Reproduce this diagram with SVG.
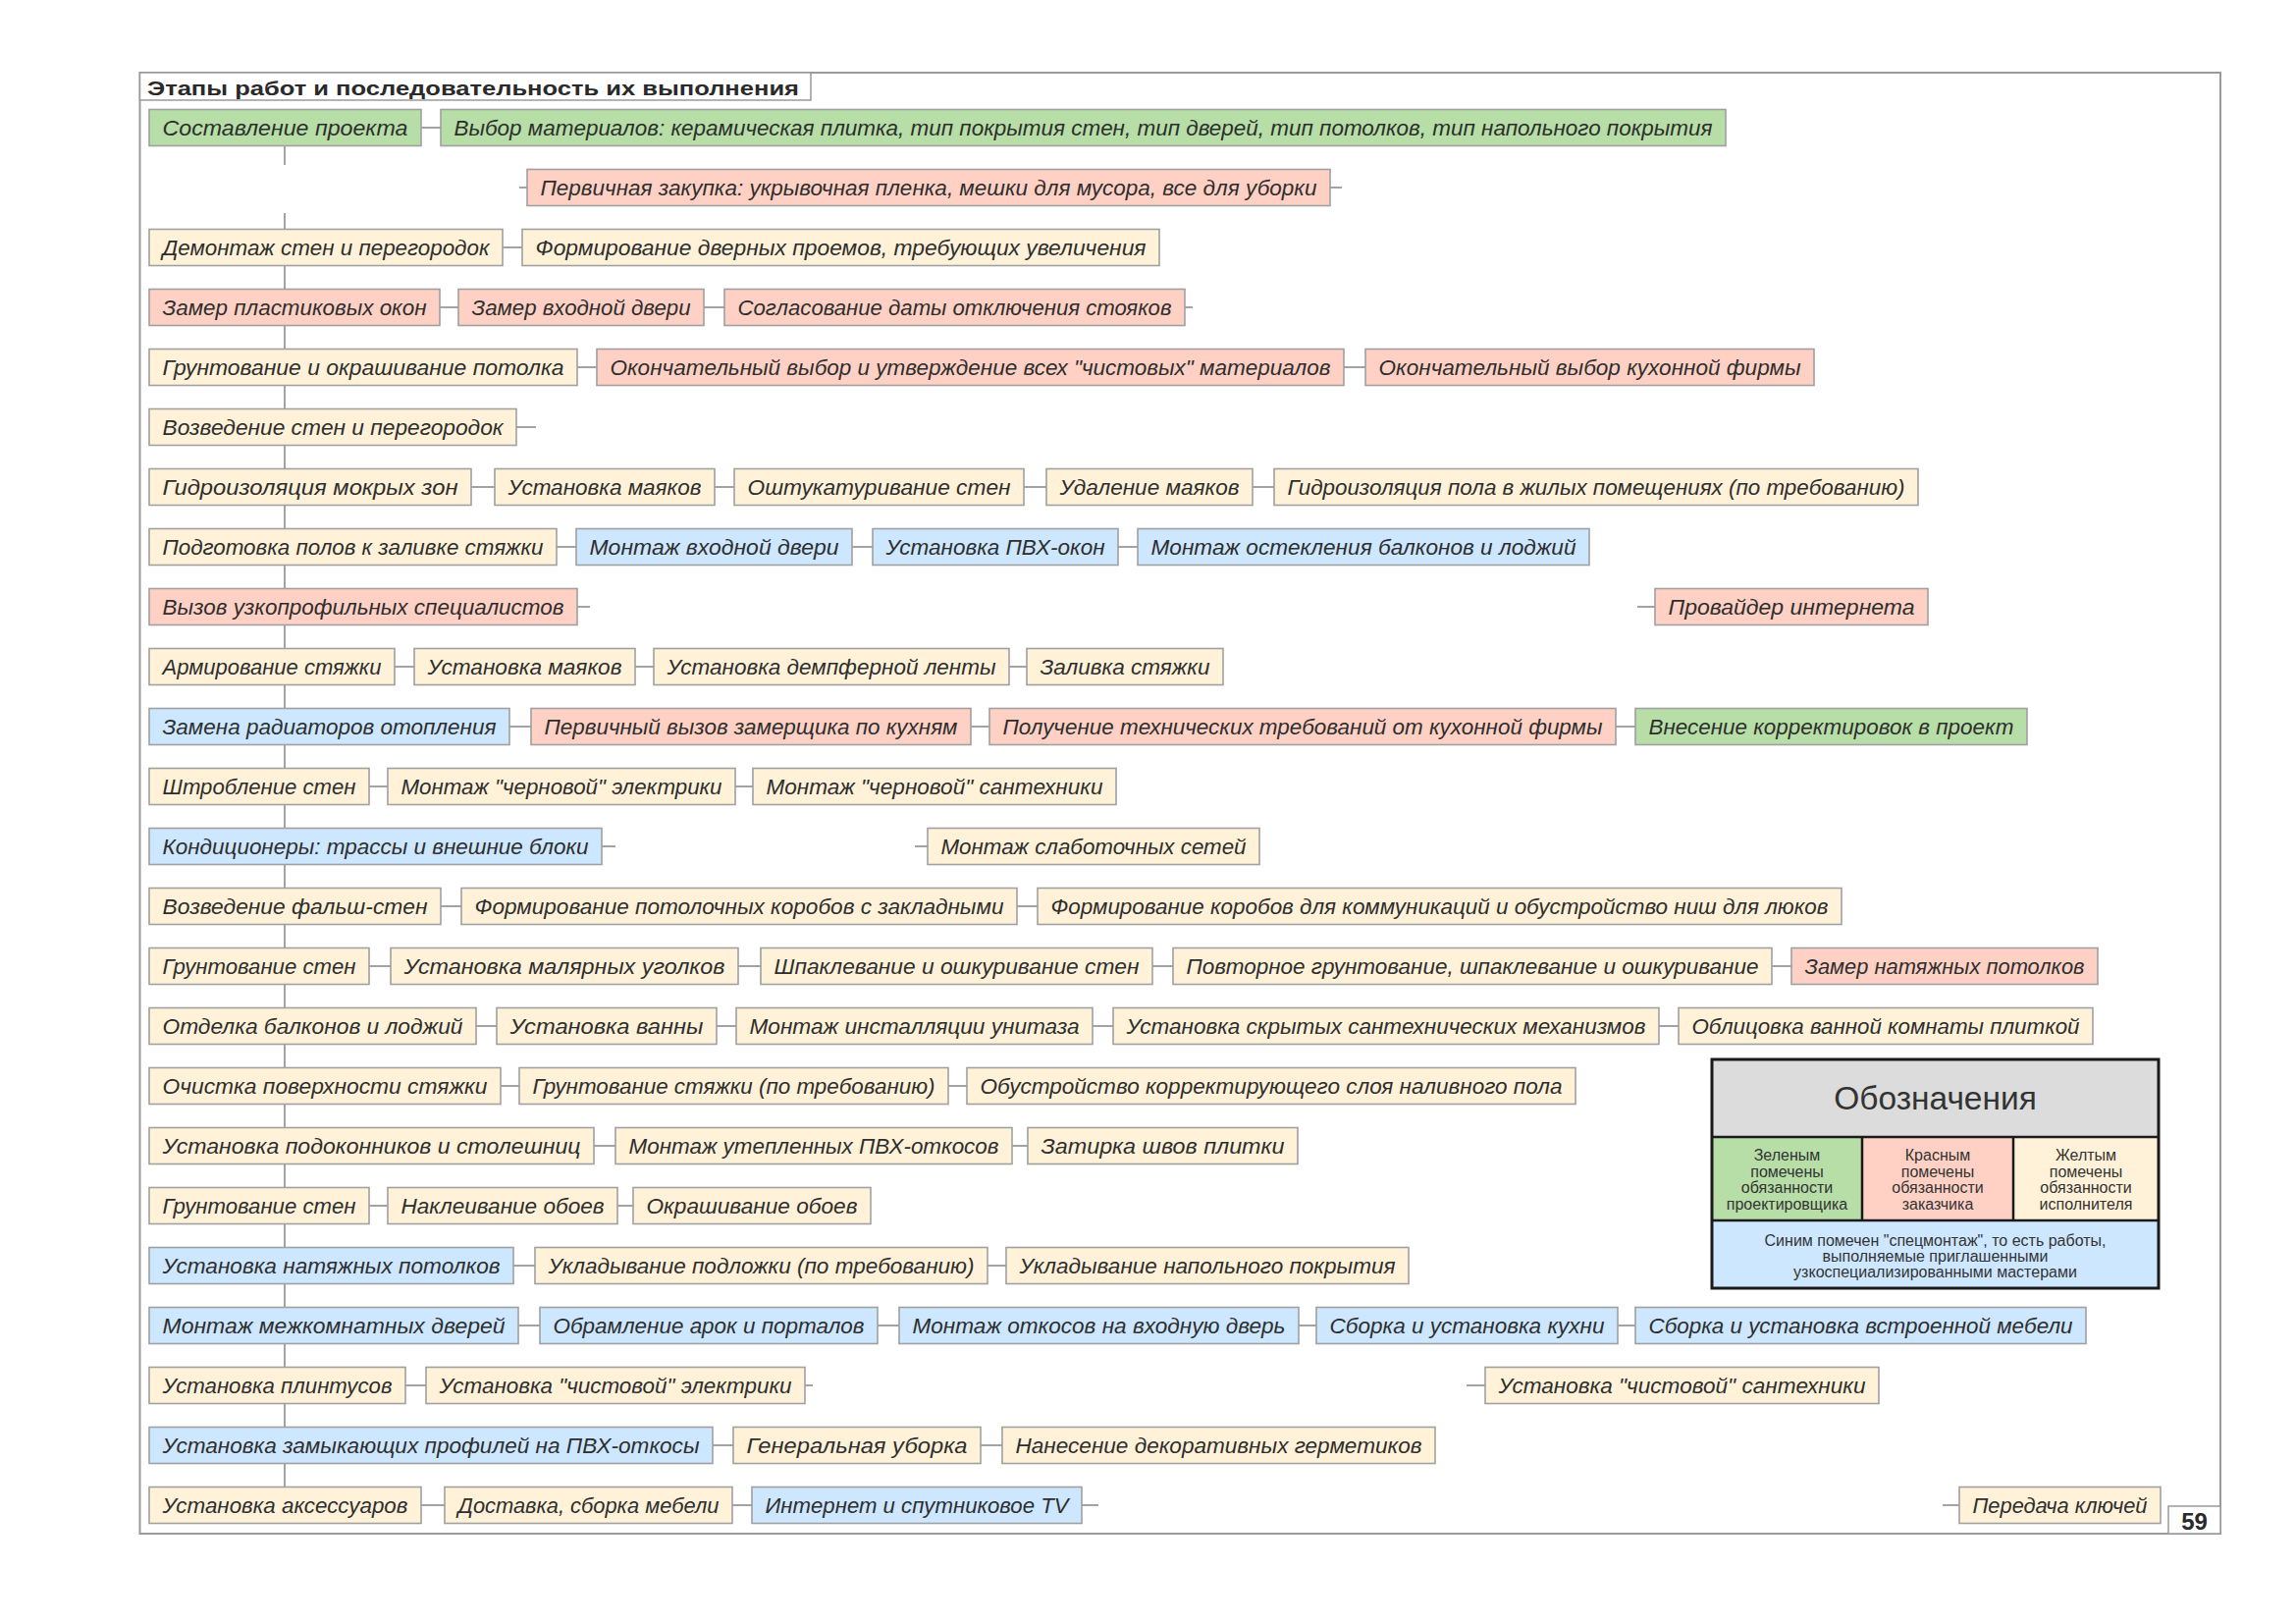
<svg xmlns="http://www.w3.org/2000/svg" width="2339" height="1653" viewBox="0 0 2339 1653">
<style>
rect.n{stroke:#a0a0a0;stroke-width:1.6}
.y{fill:#fff2d8}.r{fill:#ffd1c4}.g{fill:#b6dea6}.b{fill:#cce7ff}
text.t{font-family:"Liberation Sans",Arial,sans-serif;font-style:italic;font-size:22.5px;fill:#2e2e2e}
.c path{stroke:#a3a3a3;stroke-width:2;fill:none}
.lg{font-family:"Liberation Sans",Arial,sans-serif;fill:#333;text-anchor:middle}
</style>
<rect width="2339" height="1653" fill="#ffffff"/>
<rect x="142.5" y="74" width="2119.5" height="1488" fill="none" stroke="#9a9a9a" stroke-width="2"/>
<g id="title">
<rect x="142.5" y="74" width="683.5" height="28" fill="#ffffff" stroke="#9a9a9a" stroke-width="1.5"/>
<text x="150" y="96.5" font-family="Liberation Sans, Arial, sans-serif" font-weight="bold" font-size="21" fill="#2a2a2a" textLength="664" lengthAdjust="spacingAndGlyphs">Этапы работ и последовательность их выполнения</text>
</g>
<g id="connectors" class="c">
<path d="M290 148.5V168M290 217V1514.5"/>
<path d="M429 130H449"/>
<path d="M529 191H537M1355 191H1367"/>
<path d="M512 252H532"/>
<path d="M448 313H467M717 313H738M1207 313H1215"/>
<path d="M588 374H608M1369 374H1391"/>
<path d="M526 435H546"/>
<path d="M480 496H504M728 496H748M1043 496H1066M1276 496H1298"/>
<path d="M567 557H587M868 557H889M1139 557H1159"/>
<path d="M588 618H601M1668 618H1686"/>
<path d="M402 679H422M647 679H666M1028 679H1046"/>
<path d="M519 740H541M989 740H1008M1646 740H1666"/>
<path d="M376 801H395M749 801H767"/>
<path d="M613 862H627M932 862H945"/>
<path d="M449 923H470M1036 923H1057"/>
<path d="M376 984H398M752 984H775M1174 984H1195M1805 984H1825"/>
<path d="M485 1045H506M730 1045H750M1113 1045H1134M1690 1045H1710"/>
<path d="M510 1106H529M966 1106H985"/>
<path d="M605 1167H627M1031 1167H1047"/>
<path d="M376 1228H395M629 1228H645"/>
<path d="M523 1289H545M1006 1289H1025"/>
<path d="M528 1350H550M894 1350H916M1323 1350H1341M1648 1350H1666"/>
<path d="M413 1411H434M820 1411H828M1494 1411H1513"/>
<path d="M726 1472H747M999 1472H1021"/>
<path d="M429 1533H453M746 1533H766M1102 1533H1119M1979 1533H1996"/>
</g>
<g id="n1a"><rect class="n g" x="152" y="111.5" width="277" height="37"/><text class="t" x="165.5" y="137.5" textLength="250" lengthAdjust="spacingAndGlyphs">Составление проекта</text></g>
<g id="n1b"><rect class="n g" x="449" y="111.5" width="1309" height="37"/><text class="t" x="462.5" y="137.5" textLength="1282" lengthAdjust="spacingAndGlyphs">Выбор материалов: керамическая плитка, тип покрытия стен, тип дверей, тип потолков, тип напольного покрытия</text></g>
<g id="n2a"><rect class="n r" x="537" y="172.5" width="818" height="37"/><text class="t" x="550.5" y="198.5" textLength="791" lengthAdjust="spacingAndGlyphs">Первичная закупка: укрывочная пленка, мешки для мусора, все для уборки</text></g>
<g id="n3a"><rect class="n y" x="152" y="233.5" width="360" height="37"/><text class="t" x="165.5" y="259.5" textLength="333" lengthAdjust="spacingAndGlyphs">Демонтаж стен и перегородок</text></g>
<g id="n3b"><rect class="n y" x="532" y="233.5" width="649" height="37"/><text class="t" x="545.5" y="259.5" textLength="622" lengthAdjust="spacingAndGlyphs">Формирование дверных проемов, требующих увеличения</text></g>
<g id="n4a"><rect class="n r" x="152" y="294.5" width="296" height="37"/><text class="t" x="165.5" y="320.5" textLength="269" lengthAdjust="spacingAndGlyphs">Замер пластиковых окон</text></g>
<g id="n4b"><rect class="n r" x="467" y="294.5" width="250" height="37"/><text class="t" x="480.5" y="320.5" textLength="223" lengthAdjust="spacingAndGlyphs">Замер входной двери</text></g>
<g id="n4c"><rect class="n r" x="738" y="294.5" width="469" height="37"/><text class="t" x="751.5" y="320.5" textLength="442" lengthAdjust="spacingAndGlyphs">Согласование даты отключения стояков</text></g>
<g id="n5a"><rect class="n y" x="152" y="355.5" width="436" height="37"/><text class="t" x="165.5" y="381.5" textLength="409" lengthAdjust="spacingAndGlyphs">Грунтование и окрашивание потолка</text></g>
<g id="n5b"><rect class="n r" x="608" y="355.5" width="761" height="37"/><text class="t" x="621.5" y="381.5" textLength="734" lengthAdjust="spacingAndGlyphs">Окончательный выбор и утверждение всех "чистовых" материалов</text></g>
<g id="n5c"><rect class="n r" x="1391" y="355.5" width="457" height="37"/><text class="t" x="1404.5" y="381.5" textLength="430" lengthAdjust="spacingAndGlyphs">Окончательный выбор кухонной фирмы</text></g>
<g id="n6a"><rect class="n y" x="152" y="416.5" width="374" height="37"/><text class="t" x="165.5" y="442.5" textLength="347" lengthAdjust="spacingAndGlyphs">Возведение стен и перегородок</text></g>
<g id="n7a"><rect class="n y" x="152" y="477.5" width="328" height="37"/><text class="t" x="165.5" y="503.5" textLength="301" lengthAdjust="spacingAndGlyphs">Гидроизоляция мокрых зон</text></g>
<g id="n7b"><rect class="n y" x="504" y="477.5" width="224" height="37"/><text class="t" x="517.5" y="503.5" textLength="197" lengthAdjust="spacingAndGlyphs">Установка маяков</text></g>
<g id="n7c"><rect class="n y" x="748" y="477.5" width="295" height="37"/><text class="t" x="761.5" y="503.5" textLength="268" lengthAdjust="spacingAndGlyphs">Оштукатуривание стен</text></g>
<g id="n7d"><rect class="n y" x="1066" y="477.5" width="210" height="37"/><text class="t" x="1079.5" y="503.5" textLength="183" lengthAdjust="spacingAndGlyphs">Удаление маяков</text></g>
<g id="n7e"><rect class="n y" x="1298" y="477.5" width="656" height="37"/><text class="t" x="1311.5" y="503.5" textLength="629" lengthAdjust="spacingAndGlyphs">Гидроизоляция пола в жилых помещениях (по требованию)</text></g>
<g id="n8a"><rect class="n y" x="152" y="538.5" width="415" height="37"/><text class="t" x="165.5" y="564.5" textLength="388" lengthAdjust="spacingAndGlyphs">Подготовка полов к заливке стяжки</text></g>
<g id="n8b"><rect class="n b" x="587" y="538.5" width="281" height="37"/><text class="t" x="600.5" y="564.5" textLength="254" lengthAdjust="spacingAndGlyphs">Монтаж входной двери</text></g>
<g id="n8c"><rect class="n b" x="889" y="538.5" width="250" height="37"/><text class="t" x="902.5" y="564.5" textLength="223" lengthAdjust="spacingAndGlyphs">Установка ПВХ-окон</text></g>
<g id="n8d"><rect class="n b" x="1159" y="538.5" width="460" height="37"/><text class="t" x="1172.5" y="564.5" textLength="433" lengthAdjust="spacingAndGlyphs">Монтаж остекления балконов и лоджий</text></g>
<g id="n9a"><rect class="n r" x="152" y="599.5" width="436" height="37"/><text class="t" x="165.5" y="625.5" textLength="409" lengthAdjust="spacingAndGlyphs">Вызов узкопрофильных специалистов</text></g>
<g id="n9b"><rect class="n r" x="1686" y="599.5" width="278" height="37"/><text class="t" x="1699.5" y="625.5" textLength="251" lengthAdjust="spacingAndGlyphs">Провайдер интернета</text></g>
<g id="n10a"><rect class="n y" x="152" y="660.5" width="250" height="37"/><text class="t" x="165.5" y="686.5" textLength="223" lengthAdjust="spacingAndGlyphs">Армирование стяжки</text></g>
<g id="n10b"><rect class="n y" x="422" y="660.5" width="225" height="37"/><text class="t" x="435.5" y="686.5" textLength="198" lengthAdjust="spacingAndGlyphs">Установка маяков</text></g>
<g id="n10c"><rect class="n y" x="666" y="660.5" width="362" height="37"/><text class="t" x="679.5" y="686.5" textLength="335" lengthAdjust="spacingAndGlyphs">Установка демпферной ленты</text></g>
<g id="n10d"><rect class="n y" x="1046" y="660.5" width="200" height="37"/><text class="t" x="1059.5" y="686.5" textLength="173" lengthAdjust="spacingAndGlyphs">Заливка стяжки</text></g>
<g id="n11a"><rect class="n b" x="152" y="721.5" width="367" height="37"/><text class="t" x="165.5" y="747.5" textLength="340" lengthAdjust="spacingAndGlyphs">Замена радиаторов отопления</text></g>
<g id="n11b"><rect class="n r" x="541" y="721.5" width="448" height="37"/><text class="t" x="554.5" y="747.5" textLength="421" lengthAdjust="spacingAndGlyphs">Первичный вызов замерщика по кухням</text></g>
<g id="n11c"><rect class="n r" x="1008" y="721.5" width="638" height="37"/><text class="t" x="1021.5" y="747.5" textLength="611" lengthAdjust="spacingAndGlyphs">Получение технических требований от кухонной фирмы</text></g>
<g id="n11d"><rect class="n g" x="1666" y="721.5" width="399" height="37"/><text class="t" x="1679.5" y="747.5" textLength="372" lengthAdjust="spacingAndGlyphs">Внесение корректировок в проект</text></g>
<g id="n12a"><rect class="n y" x="152" y="782.5" width="224" height="37"/><text class="t" x="165.5" y="808.5" textLength="197" lengthAdjust="spacingAndGlyphs">Штробление стен</text></g>
<g id="n12b"><rect class="n y" x="395" y="782.5" width="354" height="37"/><text class="t" x="408.5" y="808.5" textLength="327" lengthAdjust="spacingAndGlyphs">Монтаж "черновой" электрики</text></g>
<g id="n12c"><rect class="n y" x="767" y="782.5" width="370" height="37"/><text class="t" x="780.5" y="808.5" textLength="343" lengthAdjust="spacingAndGlyphs">Монтаж "черновой" сантехники</text></g>
<g id="n13a"><rect class="n b" x="152" y="843.5" width="461" height="37"/><text class="t" x="165.5" y="869.5" textLength="434" lengthAdjust="spacingAndGlyphs">Кондиционеры: трассы и внешние блоки</text></g>
<g id="n13b"><rect class="n y" x="945" y="843.5" width="338" height="37"/><text class="t" x="958.5" y="869.5" textLength="311" lengthAdjust="spacingAndGlyphs">Монтаж слаботочных сетей</text></g>
<g id="n14a"><rect class="n y" x="152" y="904.5" width="297" height="37"/><text class="t" x="165.5" y="930.5" textLength="270" lengthAdjust="spacingAndGlyphs">Возведение фальш-стен</text></g>
<g id="n14b"><rect class="n y" x="470" y="904.5" width="566" height="37"/><text class="t" x="483.5" y="930.5" textLength="539" lengthAdjust="spacingAndGlyphs">Формирование потолочных коробов с закладными</text></g>
<g id="n14c"><rect class="n y" x="1057" y="904.5" width="819" height="37"/><text class="t" x="1070.5" y="930.5" textLength="792" lengthAdjust="spacingAndGlyphs">Формирование коробов для коммуникаций и обустройство ниш для люков</text></g>
<g id="n15a"><rect class="n y" x="152" y="965.5" width="224" height="37"/><text class="t" x="165.5" y="991.5" textLength="197" lengthAdjust="spacingAndGlyphs">Грунтование стен</text></g>
<g id="n15b"><rect class="n y" x="398" y="965.5" width="354" height="37"/><text class="t" x="411.5" y="991.5" textLength="327" lengthAdjust="spacingAndGlyphs">Установка малярных уголков</text></g>
<g id="n15c"><rect class="n y" x="775" y="965.5" width="399" height="37"/><text class="t" x="788.5" y="991.5" textLength="372" lengthAdjust="spacingAndGlyphs">Шпаклевание и ошкуривание стен</text></g>
<g id="n15d"><rect class="n y" x="1195" y="965.5" width="610" height="37"/><text class="t" x="1208.5" y="991.5" textLength="583" lengthAdjust="spacingAndGlyphs">Повторное грунтование, шпаклевание и ошкуривание</text></g>
<g id="n15e"><rect class="n r" x="1825" y="965.5" width="312" height="37"/><text class="t" x="1838.5" y="991.5" textLength="285" lengthAdjust="spacingAndGlyphs">Замер натяжных потолков</text></g>
<g id="n16a"><rect class="n y" x="152" y="1026.5" width="333" height="37"/><text class="t" x="165.5" y="1052.5" textLength="306" lengthAdjust="spacingAndGlyphs">Отделка балконов и лоджий</text></g>
<g id="n16b"><rect class="n y" x="506" y="1026.5" width="224" height="37"/><text class="t" x="519.5" y="1052.5" textLength="197" lengthAdjust="spacingAndGlyphs">Установка ванны</text></g>
<g id="n16c"><rect class="n y" x="750" y="1026.5" width="363" height="37"/><text class="t" x="763.5" y="1052.5" textLength="336" lengthAdjust="spacingAndGlyphs">Монтаж инсталляции унитаза</text></g>
<g id="n16d"><rect class="n y" x="1134" y="1026.5" width="556" height="37"/><text class="t" x="1147.5" y="1052.5" textLength="529" lengthAdjust="spacingAndGlyphs">Установка скрытых сантехнических механизмов</text></g>
<g id="n16e"><rect class="n y" x="1710" y="1026.5" width="422" height="37"/><text class="t" x="1723.5" y="1052.5" textLength="395" lengthAdjust="spacingAndGlyphs">Облицовка ванной комнаты плиткой</text></g>
<g id="n17a"><rect class="n y" x="152" y="1087.5" width="358" height="37"/><text class="t" x="165.5" y="1113.5" textLength="331" lengthAdjust="spacingAndGlyphs">Очистка поверхности стяжки</text></g>
<g id="n17b"><rect class="n y" x="529" y="1087.5" width="437" height="37"/><text class="t" x="542.5" y="1113.5" textLength="410" lengthAdjust="spacingAndGlyphs">Грунтование стяжки (по требованию)</text></g>
<g id="n17c"><rect class="n y" x="985" y="1087.5" width="620" height="37"/><text class="t" x="998.5" y="1113.5" textLength="593" lengthAdjust="spacingAndGlyphs">Обустройство корректирующего слоя наливного пола</text></g>
<g id="n18a"><rect class="n y" x="152" y="1148.5" width="453" height="37"/><text class="t" x="165.5" y="1174.5" textLength="426" lengthAdjust="spacingAndGlyphs">Установка подоконников и столешниц</text></g>
<g id="n18b"><rect class="n y" x="627" y="1148.5" width="404" height="37"/><text class="t" x="640.5" y="1174.5" textLength="377" lengthAdjust="spacingAndGlyphs">Монтаж утепленных ПВХ-откосов</text></g>
<g id="n18c"><rect class="n y" x="1047" y="1148.5" width="275" height="37"/><text class="t" x="1060.5" y="1174.5" textLength="248" lengthAdjust="spacingAndGlyphs">Затирка швов плитки</text></g>
<g id="n19a"><rect class="n y" x="152" y="1209.5" width="224" height="37"/><text class="t" x="165.5" y="1235.5" textLength="197" lengthAdjust="spacingAndGlyphs">Грунтование стен</text></g>
<g id="n19b"><rect class="n y" x="395" y="1209.5" width="234" height="37"/><text class="t" x="408.5" y="1235.5" textLength="207" lengthAdjust="spacingAndGlyphs">Наклеивание обоев</text></g>
<g id="n19c"><rect class="n y" x="645" y="1209.5" width="242" height="37"/><text class="t" x="658.5" y="1235.5" textLength="215" lengthAdjust="spacingAndGlyphs">Окрашивание обоев</text></g>
<g id="n20a"><rect class="n b" x="152" y="1270.5" width="371" height="37"/><text class="t" x="165.5" y="1296.5" textLength="344" lengthAdjust="spacingAndGlyphs">Установка натяжных потолков</text></g>
<g id="n20b"><rect class="n y" x="545" y="1270.5" width="461" height="37"/><text class="t" x="558.5" y="1296.5" textLength="434" lengthAdjust="spacingAndGlyphs">Укладывание подложки (по требованию)</text></g>
<g id="n20c"><rect class="n y" x="1025" y="1270.5" width="410" height="37"/><text class="t" x="1038.5" y="1296.5" textLength="383" lengthAdjust="spacingAndGlyphs">Укладывание напольного покрытия</text></g>
<g id="n21a"><rect class="n b" x="152" y="1331.5" width="376" height="37"/><text class="t" x="165.5" y="1357.5" textLength="349" lengthAdjust="spacingAndGlyphs">Монтаж межкомнатных дверей</text></g>
<g id="n21b"><rect class="n b" x="550" y="1331.5" width="344" height="37"/><text class="t" x="563.5" y="1357.5" textLength="317" lengthAdjust="spacingAndGlyphs">Обрамление арок и порталов</text></g>
<g id="n21c"><rect class="n b" x="916" y="1331.5" width="407" height="37"/><text class="t" x="929.5" y="1357.5" textLength="380" lengthAdjust="spacingAndGlyphs">Монтаж откосов на входную дверь</text></g>
<g id="n21d"><rect class="n b" x="1341" y="1331.5" width="307" height="37"/><text class="t" x="1354.5" y="1357.5" textLength="280" lengthAdjust="spacingAndGlyphs">Сборка и установка кухни</text></g>
<g id="n21e"><rect class="n b" x="1666" y="1331.5" width="459" height="37"/><text class="t" x="1679.5" y="1357.5" textLength="432" lengthAdjust="spacingAndGlyphs">Сборка и установка встроенной мебели</text></g>
<g id="n22a"><rect class="n y" x="152" y="1392.5" width="261" height="37"/><text class="t" x="165.5" y="1418.5" textLength="234" lengthAdjust="spacingAndGlyphs">Установка плинтусов</text></g>
<g id="n22b"><rect class="n y" x="434" y="1392.5" width="386" height="37"/><text class="t" x="447.5" y="1418.5" textLength="359" lengthAdjust="spacingAndGlyphs">Установка "чистовой" электрики</text></g>
<g id="n22c"><rect class="n y" x="1513" y="1392.5" width="401" height="37"/><text class="t" x="1526.5" y="1418.5" textLength="374" lengthAdjust="spacingAndGlyphs">Установка "чистовой" сантехники</text></g>
<g id="n23a"><rect class="n b" x="152" y="1453.5" width="574" height="37"/><text class="t" x="165.5" y="1479.5" textLength="547" lengthAdjust="spacingAndGlyphs">Установка замыкающих профилей на ПВХ-откосы</text></g>
<g id="n23b"><rect class="n y" x="747" y="1453.5" width="252" height="37"/><text class="t" x="760.5" y="1479.5" textLength="225" lengthAdjust="spacingAndGlyphs">Генеральная уборка</text></g>
<g id="n23c"><rect class="n y" x="1021" y="1453.5" width="441" height="37"/><text class="t" x="1034.5" y="1479.5" textLength="414" lengthAdjust="spacingAndGlyphs">Нанесение декоративных герметиков</text></g>
<g id="n24a"><rect class="n y" x="152" y="1514.5" width="277" height="37"/><text class="t" x="165.5" y="1540.5" textLength="250" lengthAdjust="spacingAndGlyphs">Установка аксессуаров</text></g>
<g id="n24b"><rect class="n y" x="453" y="1514.5" width="293" height="37"/><text class="t" x="466.5" y="1540.5" textLength="266" lengthAdjust="spacingAndGlyphs">Доставка, сборка мебели</text></g>
<g id="n24c"><rect class="n b" x="766" y="1514.5" width="336" height="37"/><text class="t" x="779.5" y="1540.5" textLength="309" lengthAdjust="spacingAndGlyphs">Интернет и спутниковое TV</text></g>
<g id="n24d"><rect class="n y" x="1996" y="1514.5" width="205" height="37"/><text class="t" x="2009.5" y="1540.5" textLength="178" lengthAdjust="spacingAndGlyphs">Передача ключей</text></g>
<g id="page">
<rect x="2209" y="1534" width="53" height="28" fill="#ffffff" stroke="#9a9a9a" stroke-width="1.5"/>
<text x="2235.5" y="1558" font-family="Liberation Sans, Arial, sans-serif" font-weight="bold" font-size="24" fill="#2a2a2a" text-anchor="middle">59</text>
</g>
<g id="legend">
<rect x="1744" y="1079" width="455" height="79" fill="#dcdcdc"/>
<rect x="1744" y="1158" width="153" height="85" fill="#b6dea6"/>
<rect x="1897" y="1158" width="154" height="85" fill="#ffd1c4"/>
<rect x="2051" y="1158" width="148" height="85" fill="#fff2d8"/>
<rect x="1744" y="1243" width="455" height="69" fill="#cce7ff"/>
<path d="M1744 1158H2199M1744 1243H2199M1897 1158V1243M2051 1158V1243" stroke="#1a1a1a" stroke-width="2.5" fill="none"/>
<rect x="1744" y="1079" width="455" height="233" fill="none" stroke="#1a1a1a" stroke-width="3"/>
<text class="lg" x="1971.5" y="1130" font-size="33.5">Обозначения</text>
<text class="lg" font-size="16"><tspan x="1820.5" y="1182">Зеленым</tspan><tspan x="1820.5" y="1198.5">помечены</tspan><tspan x="1820.5" y="1215">обязанности</tspan><tspan x="1820.5" y="1231.5">проектировщика</tspan></text>
<text class="lg" font-size="16"><tspan x="1974" y="1182">Красным</tspan><tspan x="1974" y="1198.5">помечены</tspan><tspan x="1974" y="1215">обязанности</tspan><tspan x="1974" y="1231.5">заказчика</tspan></text>
<text class="lg" font-size="16"><tspan x="2125" y="1182">Желтым</tspan><tspan x="2125" y="1198.5">помечены</tspan><tspan x="2125" y="1215">обязанности</tspan><tspan x="2125" y="1231.5">исполнителя</tspan></text>
<text class="lg" font-size="16"><tspan x="1971.5" y="1269">Синим помечен "спецмонтаж", то есть работы,</tspan><tspan x="1971.5" y="1285">выполняемые приглашенными</tspan><tspan x="1971.5" y="1300.5">узкоспециализированными мастерами</tspan></text>
</g>
</svg>
